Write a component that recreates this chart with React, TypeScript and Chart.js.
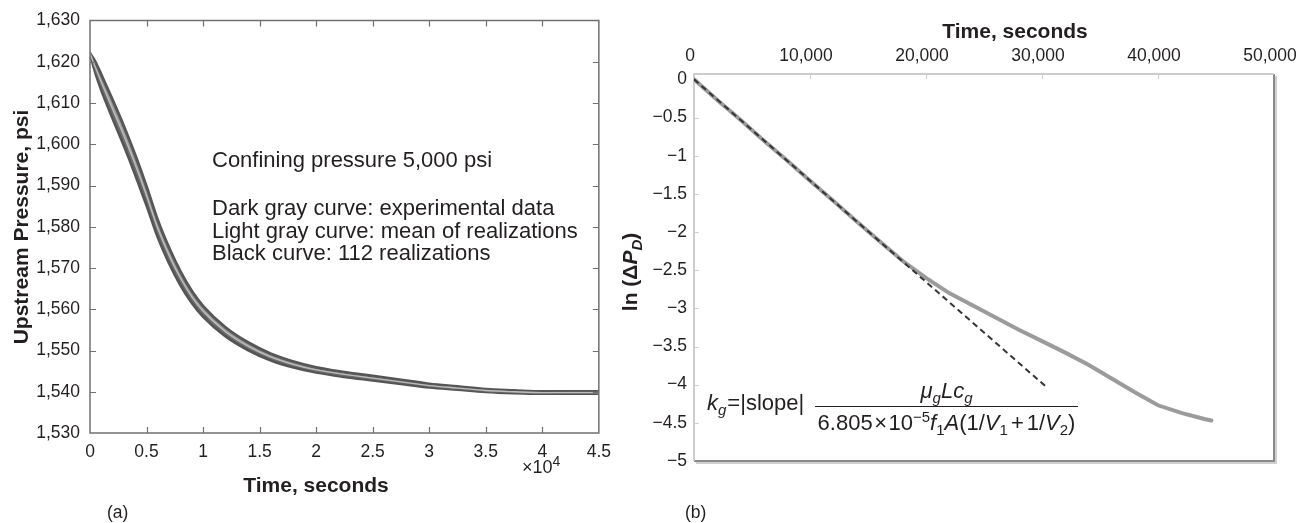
import React, { useEffect, useRef } from "react";
import { Chart, registerables } from "chart.js";
Chart.register(...registerables);

const FONT = "'Liberation Sans', Arial, Helvetica, sans-serif";
const INK = "#231f20";

// ---------- Panel (a): upstream pressure vs time ----------
const timeA = [0, 500, 1000, 2000, 3000, 4000, 5000, 6000, 7000, 8000, 9000, 10000, 12000, 14000, 16000, 18000, 20000, 22500, 25000, 27500, 30000, 32500, 35000, 37500, 40000, 42500, 45000];
const realizationHigh = [1622, 1619.8, 1616.8, 1610.7, 1604.3, 1597.3, 1589.7, 1581.5, 1574.8, 1569.1, 1564.4, 1560.75, 1555.55, 1551.9, 1549.2, 1547.3, 1545.9, 1544.75, 1543.8, 1542.85, 1541.9, 1541.25, 1540.6, 1540.3, 1540.05, 1540.05, 1540.05];
const realizationLow = [1622, 1617.2, 1613.2, 1606.3, 1599.7, 1592.7, 1585.3, 1577.5, 1571.2, 1565.9, 1561.6, 1558.25, 1553.45, 1550.1, 1547.6, 1545.9, 1544.7, 1543.65, 1542.8, 1541.95, 1541.1, 1540.55, 1540.0, 1539.7, 1539.55, 1539.55, 1539.55];
const meanOfRealizations = [1622, 1618.5, 1615, 1608.5, 1602, 1595, 1587.5, 1579.5, 1573, 1567.5, 1563, 1559.5, 1554.5, 1551, 1548.4, 1546.6, 1545.3, 1544.2, 1543.3, 1542.4, 1541.5, 1540.9, 1540.3, 1540.0, 1539.8, 1539.8, 1539.8];
const experimentalData = [1622.3, 1618.0, 1614.3, 1607.6, 1601.2, 1594.3, 1586.8, 1578.8, 1572.4, 1567.0, 1562.6, 1559.1, 1554.2, 1550.8, 1548.2, 1546.4, 1545.1, 1544.0, 1543.1, 1542.3, 1541.4, 1540.8, 1540.2, 1539.9, 1539.7, 1539.8, 1539.8];
const xTicksA = [0, 5000, 10000, 15000, 20000, 25000, 30000, 35000, 40000, 45000];
const xTickLabelsA = ["0", "0.5", "1", "1.5", "2", "2.5", "3", "3.5", "4", "4.5"];
const yTicksA = [1530, 1540, 1550, 1560, 1570, 1580, 1590, 1600, 1610, 1620, 1630];
const yTickLabelsA = ["1,530", "1,540", "1,550", "1,560", "1,570", "1,580", "1,590", "1,600", "1,610", "1,620", "1,630"];
const annotationA = [
  "Confining pressure 5,000 psi",
  "Dark gray curve: experimental data",
  "Light gray curve: mean of realizations",
  "Black curve: 112 realizations",
];

// ---------- Panel (b): ln(ΔP_D) vs time ----------
const timeB = [0, 2000, 4000, 6000, 8000, 10000, 12000, 14000, 16000, 18000, 20000, 22000, 24000, 26000, 28000, 30000, 32000, 34000, 36000, 38000, 40000, 42000, 44000, 44600];
const lnDeltaPD = [0, -0.27, -0.53, -0.8, -1.06, -1.33, -1.59, -1.86, -2.12, -2.38, -2.6, -2.8, -2.96, -3.12, -3.28, -3.43, -3.58, -3.74, -3.92, -4.1, -4.27, -4.37, -4.45, -4.47];
const fitTime = [0, 30300];
const fitLn = [0, -4.02];
const xTicksB = [0, 10000, 20000, 30000, 40000, 50000];
const xTickLabelsB = ["0", "10,000", "20,000", "30,000", "40,000", "50,000"];
const yTicksB = [0, -0.5, -1, -1.5, -2, -2.5, -3, -3.5, -4, -4.5, -5];
const yTickLabelsB = ["0", "\u22120.5", "\u22121", "\u22121.5", "\u22122", "\u22122.5", "\u22123", "\u22123.5", "\u22124", "\u22124.5", "\u22125"];

const C2X = 610;
const C2W = 710;

const pts = (xs: number[], ys: number[]) => xs.map((x, i) => ({ x, y: ys[i] }));
const fnt = (size: number, it = false, bold = false) =>
  `${it ? "italic" : "normal"} ${bold ? "bold" : "normal"} ${size}px ${FONT}`;

type Run = { t: string; size: number; it?: boolean; bold?: boolean; dy?: number; pre?: number; post?: number };

function measureRuns(ctx: CanvasRenderingContext2D, runs: Run[]) {
  let w = 0;
  for (const r of runs) {
    ctx.font = fnt(r.size, r.it, r.bold);
    w += (r.pre || 0) + ctx.measureText(r.t).width + (r.post || 0);
  }
  return w;
}
function drawRuns(ctx: CanvasRenderingContext2D, x: number, y: number, runs: Run[]) {
  ctx.fillStyle = INK;
  ctx.textAlign = "left";
  ctx.textBaseline = "alphabetic";
  let cx = x;
  for (const r of runs) {
    ctx.font = fnt(r.size, r.it, r.bold);
    cx += r.pre || 0;
    ctx.fillText(r.t, cx, y + (r.dy || 0));
    cx += ctx.measureText(r.t).width + (r.post || 0);
  }
  return cx - x;
}

const leftDecor = {
  id: "leftDecor",
  afterDraw(chart: any) {
    const { ctx, chartArea: a, scales } = chart;
    ctx.save();
    ctx.strokeStyle = "#707070";
    ctx.lineWidth = 1.5;
    ctx.strokeRect(a.left, a.top, a.right - a.left, a.bottom - a.top);
    ctx.lineWidth = 1.2;
    ctx.beginPath();
    for (const v of xTicksA.slice(1, -1)) {
      const px = Math.round(scales.x.getPixelForValue(v)) + 0.5;
      ctx.moveTo(px, a.bottom); ctx.lineTo(px, a.bottom - 6);
      ctx.moveTo(px, a.top); ctx.lineTo(px, a.top + 6);
    }
    for (const v of yTicksA.slice(1, -1)) {
      const py = Math.round(scales.y.getPixelForValue(v)) + 0.5;
      ctx.moveTo(a.left, py); ctx.lineTo(a.left + 6, py);
      ctx.moveTo(a.right, py); ctx.lineTo(a.right - 6, py);
    }
    ctx.stroke();

    // annotation
    const baselines = [167, 215, 237.5, 260];
    annotationA.forEach((t, i) => drawRuns(ctx, 212, baselines[i], [{ t, size: 22 }]));

    // x title
    ctx.fillStyle = INK;
    ctx.font = fnt(21, false, true);
    ctx.textAlign = "center";
    ctx.textBaseline = "alphabetic";
    ctx.fillText("Time, seconds", 316, 492);
    // x multiplier
    drawRuns(ctx, 522, 473, [{ t: "\u00d710", size: 18 }, { t: "4", size: 14, dy: -7 }]);
    // panel label
    drawRuns(ctx, 107, 518, [{ t: "(a)", size: 17.5 }]);
    // y title
    ctx.save();
    ctx.translate(22, 227);
    ctx.rotate(-Math.PI / 2);
    ctx.fillStyle = INK;
    ctx.font = fnt(21, false, true);
    ctx.textAlign = "center";
    ctx.textBaseline = "middle";
    ctx.fillText("Upstream Pressure, psi", 0, 0);
    ctx.restore();
    ctx.restore();
  },
};

const rightDecor = {
  id: "rightDecor",
  beforeDatasetsDraw(chart: any) {
    const { ctx, chartArea: a, scales } = chart;
    ctx.save();
    ctx.strokeStyle = "#cfcfcf";
    ctx.lineWidth = 2;
    ctx.beginPath();
    ctx.moveTo(a.right + 2, a.top + 2); ctx.lineTo(a.right + 2, a.bottom + 2); ctx.lineTo(a.left + 2, a.bottom + 2);
    ctx.stroke();
    ctx.strokeStyle = "#8a8a8a";
    ctx.beginPath();
    ctx.moveTo(a.right, a.top); ctx.lineTo(a.right, a.bottom); ctx.lineTo(a.left, a.bottom);
    ctx.stroke();
    ctx.strokeStyle = "#cdcdcd";
    ctx.beginPath();
    ctx.moveTo(a.left, a.bottom); ctx.lineTo(a.left, a.top); ctx.lineTo(a.right, a.top);
    ctx.stroke();
    ctx.lineWidth = 1.2;
    ctx.beginPath();
    for (const v of xTicksB.slice(1, -1)) {
      const px = Math.round(scales.x.getPixelForValue(v)) + 0.5;
      ctx.moveTo(px, a.top); ctx.lineTo(px, a.top + 5);
    }
    for (const v of yTicksB.slice(1, -1)) {
      const py = Math.round(scales.y.getPixelForValue(v)) + 0.5;
      ctx.moveTo(a.left, py); ctx.lineTo(a.left + 5, py);
    }
    ctx.stroke();
    ctx.restore();
  },
  afterDraw(chart: any) {
    const { ctx } = chart;
    ctx.save();
    ctx.fillStyle = INK;
    ctx.font = fnt(21, false, true);
    ctx.textAlign = "center";
    ctx.textBaseline = "alphabetic";
    ctx.fillText("Time, seconds", 1015 - C2X, 38);

    const yRuns: Run[] = [
      { t: "ln (\u0394", size: 21, bold: true },
      { t: "P", size: 21, bold: true, it: true },
      { t: "D", size: 15, bold: true, it: true, dy: 5 },
      { t: ")", size: 21, bold: true },
    ];
    ctx.save();
    ctx.translate(630 - C2X, 272);
    ctx.rotate(-Math.PI / 2);
    const yw = measureRuns(ctx, yRuns);
    drawRuns(ctx, -yw / 2, 7, yRuns);
    ctx.restore();

    const fs = 22;
    const ss = 15;
    drawRuns(ctx, 707 - C2X, 410, [
      { t: "k", size: fs, it: true },
      { t: "g", size: ss, it: true, dy: 5 },
      { t: "=|slope|", size: fs, pre: 1 },
    ]);
    const barL = 815 - C2X;
    const barR = 1078 - C2X;
    const barY = 406.5;
    ctx.strokeStyle = INK;
    ctx.lineWidth = 1.2;
    ctx.beginPath();
    ctx.moveTo(barL, barY); ctx.lineTo(barR, barY);
    ctx.stroke();
    const num: Run[] = [
      { t: "\u03bc", size: fs, it: true },
      { t: "g", size: ss, it: true, dy: 5 },
      { t: "L", size: fs, it: true },
      { t: "c", size: fs, it: true },
      { t: "g", size: ss, it: true, dy: 5 },
    ];
    const nw = measureRuns(ctx, num);
    drawRuns(ctx, (barL + barR) / 2 - nw / 2, 398, num);
    const den: Run[] = [
      { t: "6.805", size: fs },
      { t: "\u00d7", size: fs, pre: 1.5, post: 1.5 },
      { t: "10", size: fs },
      { t: "\u22125", size: ss, dy: -8 },
      { t: "f", size: fs, it: true },
      { t: "1", size: ss, dy: 5 },
      { t: "A", size: fs, it: true },
      { t: "(1/", size: fs },
      { t: "V", size: fs, it: true },
      { t: "1", size: ss, dy: 5 },
      { t: "+", size: fs, pre: 3, post: 3 },
      { t: "1/", size: fs },
      { t: "V", size: fs, it: true },
      { t: "2", size: ss, dy: 5 },
      { t: ")", size: fs },
    ];
    const dw = measureRuns(ctx, den);
    drawRuns(ctx, (barL + barR) / 2 - dw / 2, 430, den);

    drawRuns(ctx, 685 - C2X, 518, [{ t: "(b)", size: 17.5 }]);
    ctx.restore();
  },
};

export default function App() {
  const leftRef = useRef<HTMLCanvasElement>(null);
  const rightRef = useRef<HTMLCanvasElement>(null);

  useEffect(() => {
    Chart.defaults.font.family = FONT;
    Chart.defaults.color = INK;
    const tickFont = { family: FONT, size: 17.5 };

    const left = new Chart(leftRef.current!, {
      type: "line",
      data: {
        datasets: [
          {
            label: "Realizations (upper)",
            data: pts(timeA, realizationHigh),
            borderColor: "#555555",
            borderWidth: 3,
            pointRadius: 0,
            fill: false,
            cubicInterpolationMode: "monotone",
            order: 4,
          },
          {
            label: "Realizations (lower)",
            data: pts(timeA, realizationLow),
            borderColor: "#555555",
            borderWidth: 3,
            pointRadius: 0,
            fill: "-1",
            backgroundColor: "rgba(95,95,95,0.6)",
            cubicInterpolationMode: "monotone",
            order: 3,
          },
          {
            label: "Experimental data",
            data: pts(timeA, experimentalData),
            borderColor: "#6a6a6a",
            borderWidth: 2,
            pointRadius: 0,
            fill: false,
            cubicInterpolationMode: "monotone",
            order: 2,
          },
          {
            label: "Mean of realizations",
            data: pts(timeA, meanOfRealizations),
            borderColor: "#bdbdbd",
            borderWidth: 1.3,
            pointRadius: 0,
            fill: false,
            cubicInterpolationMode: "monotone",
            order: 1,
          },
        ],
      } as any,
      options: {
        responsive: false,
        animation: false,
        layout: { padding: { left: 0, top: 16, right: 21, bottom: 0 } },
        plugins: { legend: { display: false }, tooltip: { enabled: false } },
        scales: {
          x: {
            type: "linear",
            position: "bottom",
            min: 0,
            max: 45000,
            grid: { display: false, drawTicks: false },
            border: { display: false },
            afterBuildTicks: (s: any) => { s.ticks = xTicksA.map((v) => ({ value: v })); },
            afterFit: (s: any) => { s.height = 90; },
            ticks: {
              font: tickFont,
              color: INK,
              padding: 9,
              maxRotation: 0,
              minRotation: 0,
              autoSkip: false,
              callback: (v: any) => xTickLabelsA[xTicksA.indexOf(Number(v))],
            },
          },
          y: {
            type: "linear",
            min: 1530,
            max: 1630,
            grid: { display: false, drawTicks: false },
            border: { display: false },
            afterBuildTicks: (s: any) => { s.ticks = yTicksA.map((v) => ({ value: v })); },
            afterFit: (s: any) => { s.width = 90; },
            ticks: {
              font: tickFont,
              color: INK,
              padding: 10,
              autoSkip: false,
              callback: (v: any) => yTickLabelsA[yTicksA.indexOf(Number(v))],
            },
          },
        },
      } as any,
      plugins: [leftDecor],
    });

    const right = new Chart(rightRef.current!, {
      type: "line",
      data: {
        datasets: [
          {
            label: "Tangent fit",
            data: pts(fitTime, fitLn),
            borderColor: "#353535",
            borderWidth: 2,
            borderDash: [6, 4],
            pointRadius: 0,
            fill: false,
            order: 0,
          },
          {
            label: "ln(ΔP_D)",
            data: pts(timeB, lnDeltaPD),
            borderColor: "#9b9b9b",
            borderWidth: 4,
            pointRadius: 0,
            fill: false,
            tension: 0,
            borderCapStyle: "round",
            order: 1,
          },
        ],
      } as any,
      options: {
        responsive: false,
        animation: false,
        layout: { padding: { left: 0, top: 0, right: 46, bottom: 62 } },
        plugins: { legend: { display: false }, tooltip: { enabled: false } },
        scales: {
          x: {
            type: "linear",
            position: "top",
            min: 0,
            max: 50000,
            grid: { display: false, drawTicks: false },
            border: { display: false },
            afterBuildTicks: (s: any) => { s.ticks = xTicksB.map((v) => ({ value: v })); },
            afterFit: (s: any) => { s.height = 74; },
            ticks: {
              font: tickFont,
              color: INK,
              padding: 7,
              labelOffset: -4,
              maxRotation: 0,
              minRotation: 0,
              autoSkip: false,
              callback: (v: any) => xTickLabelsB[xTicksB.indexOf(Number(v))],
            },
          },
          y: {
            type: "linear",
            min: -5,
            max: 0.07,
            grid: { display: false, drawTicks: false },
            border: { display: false },
            afterBuildTicks: (s: any) => { s.ticks = yTicksB.map((v) => ({ value: v })); },
            afterFit: (s: any) => { s.width = 694 - C2X; },
            ticks: {
              font: tickFont,
              color: INK,
              padding: 7,
              autoSkip: false,
              callback: (v: any) => yTickLabelsB[yTicksB.indexOf(Number(v))],
            },
          },
        },
      } as any,
      plugins: [rightDecor],
    });

    return () => {
      left.destroy();
      right.destroy();
    };
  }, []);

  return (
    <div style={{ position: "absolute", left: 0, top: 0, width: 1298, height: 523, overflow: "hidden", background: "#fff" }}>
      <canvas ref={leftRef} width={620} height={523} style={{ position: "absolute", left: 0, top: 0 }} />
      <canvas ref={rightRef} width={C2W} height={523} style={{ position: "absolute", left: C2X, top: 0 }} />
    </div>
  );
}
